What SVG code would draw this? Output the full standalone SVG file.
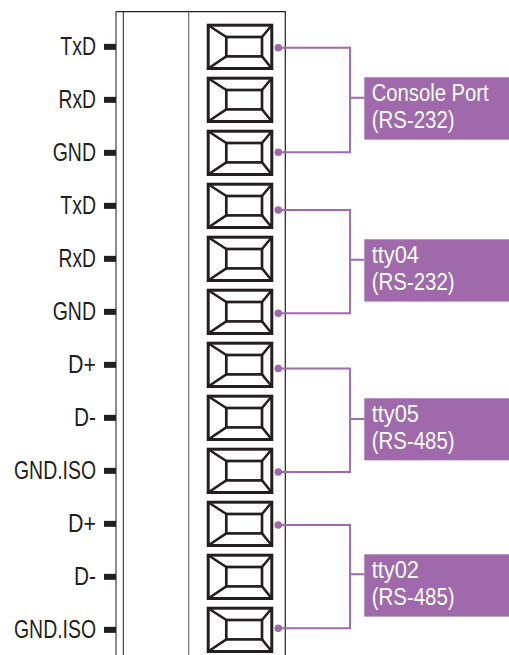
<svg xmlns="http://www.w3.org/2000/svg" xmlns:xlink="http://www.w3.org/1999/xlink" width="509" height="655" viewBox="0 0 509 655">
<style>
.pin{font-family:"Liberation Sans",Arial,sans-serif;font-size:26px;fill:#231f20;text-anchor:end}
.mark{fill:#231f20}
.tb{fill:#fff;stroke:#231f20;stroke-width:3}
.tbi{fill:none;stroke:#231f20;stroke-width:2.7}
.tbd{stroke:#231f20;stroke-width:2.5;stroke-linecap:round}
.wire{fill:none;stroke:#9f69ac;stroke-width:1.9}
.dot{fill:#9f69ac}
.lbox{fill:#9f69ac}
.ltxt{font-family:"Liberation Sans",Arial,sans-serif;font-size:23.5px;fill:#fff}
</style>
<defs>
<g id="term">
<rect class="tb" x="208.2" y="25.2" width="63.6" height="43.3"/>
<line class="tbd" x1="208.2" y1="25.2" x2="226.3" y2="37"/>
<line class="tbd" x1="271.8" y1="25.2" x2="262" y2="37"/>
<line class="tbd" x1="208.2" y1="68.5" x2="226.3" y2="56.4"/>
<line class="tbd" x1="271.8" y1="68.5" x2="262" y2="56.4"/>
<rect class="tbi" x="226.3" y="37" width="35.7" height="19.4"/>
</g>
</defs>
<rect width="509" height="655" fill="#fff"/>
<g id="frame">
<line x1="116" y1="11.7" x2="285.3" y2="11.7" stroke="#231f20" stroke-width="1.2"/>
<line x1="116" y1="11" x2="116" y2="655" stroke="#6d6e71" stroke-width="1.6"/>
<line x1="123.3" y1="11.7" x2="123.3" y2="655" stroke="#231f20" stroke-width="1"/>
<line x1="188.7" y1="11.7" x2="188.7" y2="655" stroke="#6d6e71" stroke-width="1.2"/>
<line x1="285.3" y1="11" x2="285.3" y2="655" stroke="#231f20" stroke-width="1.2"/>
</g>
<g id="t1"><use xlink:href="#term" y="0"/><rect class="mark" x="104" y="43.85" width="12" height="6"/><text class="pin" x="96" y="54.85" textLength="35.7" lengthAdjust="spacingAndGlyphs">TxD</text></g>
<g id="t2"><use xlink:href="#term" y="53"/><rect class="mark" x="104" y="96.85" width="12" height="6"/><text class="pin" x="96" y="107.85" textLength="37.5" lengthAdjust="spacingAndGlyphs">RxD</text></g>
<g id="t3"><use xlink:href="#term" y="106"/><rect class="mark" x="104" y="149.85" width="12" height="6"/><text class="pin" x="96" y="160.85" textLength="43.3" lengthAdjust="spacingAndGlyphs">GND</text></g>
<g id="t4"><use xlink:href="#term" y="159"/><rect class="mark" x="104" y="202.85" width="12" height="6"/><text class="pin" x="96" y="213.85" textLength="35.7" lengthAdjust="spacingAndGlyphs">TxD</text></g>
<g id="t5"><use xlink:href="#term" y="212"/><rect class="mark" x="104" y="255.85" width="12" height="6"/><text class="pin" x="96" y="266.85" textLength="37.5" lengthAdjust="spacingAndGlyphs">RxD</text></g>
<g id="t6"><use xlink:href="#term" y="265"/><rect class="mark" x="104" y="308.85" width="12" height="6"/><text class="pin" x="96" y="319.85" textLength="43.3" lengthAdjust="spacingAndGlyphs">GND</text></g>
<g id="t7"><use xlink:href="#term" y="318"/><rect class="mark" x="104" y="361.85" width="12" height="6"/><text class="pin" x="96" y="372.85" textLength="28" lengthAdjust="spacingAndGlyphs">D+</text></g>
<g id="t8"><use xlink:href="#term" y="371"/><rect class="mark" x="104" y="414.85" width="12" height="6"/><text class="pin" x="96" y="425.85" textLength="22" lengthAdjust="spacingAndGlyphs">D-</text></g>
<g id="t9"><use xlink:href="#term" y="424"/><rect class="mark" x="104" y="467.85" width="12" height="6"/><text class="pin" x="96" y="478.85" textLength="82" lengthAdjust="spacingAndGlyphs">GND.ISO</text></g>
<g id="t10"><use xlink:href="#term" y="477"/><rect class="mark" x="104" y="520.85" width="12" height="6"/><text class="pin" x="96" y="531.85" textLength="28" lengthAdjust="spacingAndGlyphs">D+</text></g>
<g id="t11"><use xlink:href="#term" y="530"/><rect class="mark" x="104" y="573.85" width="12" height="6"/><text class="pin" x="96" y="584.85" textLength="22" lengthAdjust="spacingAndGlyphs">D-</text></g>
<g id="t12"><use xlink:href="#term" y="583"/><rect class="mark" x="104" y="626.85" width="12" height="6"/><text class="pin" x="96" y="637.85" textLength="82" lengthAdjust="spacingAndGlyphs">GND.ISO</text></g>
<g id="connectors">
<path class="wire" d="M278.3 47.7H350V152.3H278.3M350 97.7H364.3"/>
<path class="wire" d="M278.3 210H350V313.3H278.3M350 259.7H364.3"/>
<path class="wire" d="M278.3 368.5H350V472H278.3M350 419H364.3"/>
<path class="wire" d="M278.3 525H350V628.3H278.3M350 574.3H364.3"/>
<circle class="dot" cx="278.3" cy="47.7" r="3.8"/><circle class="dot" cx="278.3" cy="152.3" r="3.8"/>
<circle class="dot" cx="278.3" cy="210" r="3.8"/><circle class="dot" cx="278.3" cy="313.3" r="3.8"/>
<circle class="dot" cx="278.3" cy="368.5" r="3.8"/><circle class="dot" cx="278.3" cy="472" r="3.8"/>
<circle class="dot" cx="278.3" cy="525" r="3.8"/><circle class="dot" cx="278.3" cy="628.3" r="3.8"/>
</g>
<g id="console"><rect class="lbox" x="364.3" y="77.3" width="144.7" height="62.3"/><text class="ltxt" x="371.7" y="100.7" textLength="117" lengthAdjust="spacingAndGlyphs">Console Port</text><text class="ltxt" x="371.7" y="127.8" textLength="83" lengthAdjust="spacingAndGlyphs">(RS-232)</text></g>
<g id="tty04"><rect class="lbox" x="364.3" y="239.3" width="144.7" height="62.3"/><text class="ltxt" x="371.7" y="262.7" textLength="47.3" lengthAdjust="spacingAndGlyphs">tty04</text><text class="ltxt" x="371.7" y="289.8" textLength="83" lengthAdjust="spacingAndGlyphs">(RS-232)</text></g>
<g id="tty05"><rect class="lbox" x="364.3" y="398.3" width="144.7" height="62" /><text class="ltxt" x="371.7" y="421.7" textLength="47.3" lengthAdjust="spacingAndGlyphs">tty05</text><text class="ltxt" x="371.7" y="448.8" textLength="83" lengthAdjust="spacingAndGlyphs">(RS-485)</text></g>
<g id="tty02"><rect class="lbox" x="364.3" y="554.3" width="144.7" height="62.3"/><text class="ltxt" x="371.7" y="577.7" textLength="47.3" lengthAdjust="spacingAndGlyphs">tty02</text><text class="ltxt" x="371.7" y="604.8" textLength="83" lengthAdjust="spacingAndGlyphs">(RS-485)</text></g>
</svg>
